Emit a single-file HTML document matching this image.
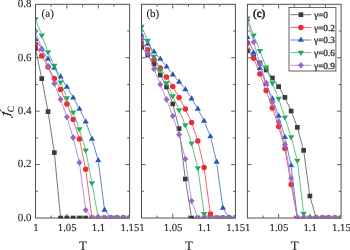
<!DOCTYPE html>
<html><head><meta charset="utf-8"><title>fc vs T</title><style>
html,body{margin:0;padding:0;background:#fff;}
body{width:350px;height:250px;position:relative;overflow:hidden;font-family:"Liberation Serif",serif;}
svg{display:block;will-change:transform;opacity:0.999;filter:blur(0.3px)}
</style></head><body>
<svg width="350" height="250" viewBox="0 0 350 250">
<defs>
<clipPath id="c0"><rect x="36.00" y="4.80" width="93.10" height="213.70"/></clipPath>
<clipPath id="c1"><rect x="142.00" y="4.80" width="92.90" height="213.70"/></clipPath>
<clipPath id="c2"><rect x="247.90" y="4.80" width="92.70" height="213.70"/></clipPath>
</defs>
<rect x="35.5" y="4.3" width="94.10" height="213.70" fill="none" stroke="#505050" stroke-width="1.0"/>
<path d="M51.18 218.0v-2.4M51.18 4.3v2.4M66.87 218.0v-4.2M66.87 4.3v4.2M82.55 218.0v-2.4M82.55 4.3v2.4M98.23 218.0v-4.2M98.23 4.3v4.2M113.92 218.0v-2.4M113.92 4.3v2.4M35.5 31.01h2.4M129.6 31.01h-2.4M35.5 57.72h4.2M129.6 57.72h-4.2M35.5 84.44h2.4M129.6 84.44h-2.4M35.5 111.15h4.2M129.6 111.15h-4.2M35.5 137.86h2.4M129.6 137.86h-2.4M35.5 164.57h4.2M129.6 164.57h-4.2M35.5 191.29h2.4M129.6 191.29h-2.4" stroke="#505050" stroke-width="0.9" fill="none"/>
<g clip-path="url(#c0)">
<path d="M36.01 50.95L41.26 76.15M42.24 81.06L47.58 109.14M48.42 114.07L53.94 150.13M54.56 155.09L60.35 215.51M63.09 218.00L64.37 218.00M69.37 218.00L70.64 218.00M75.64 218.00L76.91 218.00M81.91 218.00L83.19 218.00M88.19 218.00L89.46 218.00M94.46 218.00L95.73 218.00M100.73 218.00L102.01 218.00M107.01 218.00L108.28 218.00M113.28 218.00L114.55 218.00M119.55 218.00L120.83 218.00M125.83 218.00L127.10 218.00" stroke="#555" stroke-width="0.8" fill="none"/>
<rect x="33.15" y="46.15" width="4.70" height="4.70" fill="#3a3a3a"/>
<rect x="39.42" y="76.25" width="4.70" height="4.70" fill="#3a3a3a"/>
<rect x="45.70" y="109.25" width="4.70" height="4.70" fill="#3a3a3a"/>
<rect x="51.97" y="150.25" width="4.70" height="4.70" fill="#3a3a3a"/>
<rect x="58.24" y="215.65" width="4.70" height="4.70" fill="#3a3a3a"/>
<rect x="64.52" y="215.65" width="4.70" height="4.70" fill="#3a3a3a"/>
<rect x="70.79" y="215.65" width="4.70" height="4.70" fill="#3a3a3a"/>
<rect x="77.06" y="215.65" width="4.70" height="4.70" fill="#3a3a3a"/>
<rect x="83.34" y="215.65" width="4.70" height="4.70" fill="#3a3a3a"/>
<rect x="89.61" y="215.65" width="4.70" height="4.70" fill="#3a3a3a"/>
<rect x="95.88" y="215.65" width="4.70" height="4.70" fill="#3a3a3a"/>
<rect x="102.16" y="215.65" width="4.70" height="4.70" fill="#3a3a3a"/>
<rect x="108.43" y="215.65" width="4.70" height="4.70" fill="#3a3a3a"/>
<rect x="114.70" y="215.65" width="4.70" height="4.70" fill="#3a3a3a"/>
<rect x="120.98" y="215.65" width="4.70" height="4.70" fill="#3a3a3a"/>
<rect x="127.25" y="215.65" width="4.70" height="4.70" fill="#3a3a3a"/>
<path d="M36.70 46.69L40.58 53.81M43.01 58.17L46.81 64.83M49.25 69.19L53.11 76.21M55.55 80.58L59.36 87.32M61.59 91.79L65.87 101.71M67.80 106.32L72.20 117.18M73.91 121.88L78.65 136.62M79.92 141.45L85.18 166.75M86.01 171.68L91.64 215.52M94.46 218.00L95.73 218.00M100.73 218.00L102.01 218.00M107.01 218.00L108.28 218.00M113.28 218.00L114.55 218.00M119.55 218.00L120.83 218.00M125.83 218.00L127.10 218.00" stroke="#f0404a" stroke-width="0.8" fill="none"/>
<circle cx="35.50" cy="44.50" r="2.75" fill="#ee2a35"/>
<circle cx="41.77" cy="56.00" r="2.75" fill="#ee2a35"/>
<circle cx="48.05" cy="67.00" r="2.75" fill="#ee2a35"/>
<circle cx="54.32" cy="78.40" r="2.75" fill="#ee2a35"/>
<circle cx="60.59" cy="89.50" r="2.75" fill="#ee2a35"/>
<circle cx="66.87" cy="104.00" r="2.75" fill="#ee2a35"/>
<circle cx="73.14" cy="119.50" r="2.75" fill="#ee2a35"/>
<circle cx="79.41" cy="139.00" r="2.75" fill="#ee2a35"/>
<circle cx="85.69" cy="169.20" r="2.75" fill="#ee2a35"/>
<circle cx="91.96" cy="218.00" r="2.75" fill="#ee2a35"/>
<circle cx="98.23" cy="218.00" r="2.75" fill="#ee2a35"/>
<circle cx="104.51" cy="218.00" r="2.75" fill="#ee2a35"/>
<circle cx="110.78" cy="218.00" r="2.75" fill="#ee2a35"/>
<circle cx="117.05" cy="218.00" r="2.75" fill="#ee2a35"/>
<circle cx="123.33" cy="218.00" r="2.75" fill="#ee2a35"/>
<circle cx="129.60" cy="218.00" r="2.75" fill="#ee2a35"/>
<path d="M36.85 41.31L40.43 46.89M43.10 51.12L46.72 56.88M49.48 61.05L52.89 65.95M55.79 70.02L59.12 74.58M61.88 78.74L65.58 84.86M68.14 89.15L71.87 95.45M74.35 99.79L78.21 106.81M80.53 111.24L84.57 119.36M86.53 123.95L91.11 136.65M92.66 141.40L97.53 158.10M98.55 162.98L104.19 207.52M106.05 211.97L109.24 216.03M113.28 218.00L114.55 218.00M119.55 218.00L120.83 218.00M125.83 218.00L127.10 218.00" stroke="#3a68bc" stroke-width="0.8" fill="none"/>
<path d="M35.50 35.75L38.60 41.00L32.40 41.00Z" fill="#2458b4"/>
<path d="M41.77 45.55L44.87 50.80L38.67 50.80Z" fill="#2458b4"/>
<path d="M48.05 55.55L51.15 60.80L44.95 60.80Z" fill="#2458b4"/>
<path d="M54.32 64.55L57.42 69.80L51.22 69.80Z" fill="#2458b4"/>
<path d="M60.59 73.15L63.69 78.40L57.49 78.40Z" fill="#2458b4"/>
<path d="M66.87 83.55L69.97 88.80L63.77 88.80Z" fill="#2458b4"/>
<path d="M73.14 94.15L76.24 99.40L70.04 99.40Z" fill="#2458b4"/>
<path d="M79.41 105.55L82.51 110.80L76.31 110.80Z" fill="#2458b4"/>
<path d="M85.69 118.15L88.79 123.40L82.59 123.40Z" fill="#2458b4"/>
<path d="M91.96 135.55L95.06 140.80L88.86 140.80Z" fill="#2458b4"/>
<path d="M98.23 157.05L101.33 162.30L95.13 162.30Z" fill="#2458b4"/>
<path d="M104.51 206.55L107.61 211.80L101.41 211.80Z" fill="#2458b4"/>
<path d="M110.78 214.55L113.88 219.80L107.68 219.80Z" fill="#2458b4"/>
<path d="M117.05 214.55L120.15 219.80L113.95 219.80Z" fill="#2458b4"/>
<path d="M123.33 214.55L126.43 219.80L120.23 219.80Z" fill="#2458b4"/>
<path d="M129.60 214.55L132.70 219.80L126.50 219.80Z" fill="#2458b4"/>
<path d="M36.40 21.33L40.87 32.87M42.65 37.54L47.17 49.66M49.09 54.27L53.27 63.33M55.19 67.94L59.72 80.06M61.53 84.72L65.93 95.68M67.87 100.29L72.14 110.11M74.02 114.74L78.53 126.66M80.12 131.40L84.98 148.00M86.16 152.85L91.49 180.55M92.40 185.46L97.79 215.54M100.73 218.00L102.01 218.00M107.01 218.00L108.28 218.00M113.28 218.00L114.55 218.00M119.55 218.00L120.83 218.00M125.83 218.00L127.10 218.00" stroke="#35b26c" stroke-width="0.8" fill="none"/>
<path d="M35.50 22.45L38.65 17.20L32.35 17.20Z" fill="#1faa5c"/>
<path d="M41.77 38.65L44.92 33.40L38.62 33.40Z" fill="#1faa5c"/>
<path d="M48.05 55.45L51.20 50.20L44.90 50.20Z" fill="#1faa5c"/>
<path d="M54.32 69.05L57.47 63.80L51.17 63.80Z" fill="#1faa5c"/>
<path d="M60.59 85.85L63.74 80.60L57.44 80.60Z" fill="#1faa5c"/>
<path d="M66.87 101.45L70.02 96.20L63.72 96.20Z" fill="#1faa5c"/>
<path d="M73.14 115.85L76.29 110.60L69.99 110.60Z" fill="#1faa5c"/>
<path d="M79.41 132.45L82.56 127.20L76.26 127.20Z" fill="#1faa5c"/>
<path d="M85.69 153.85L88.84 148.60L82.54 148.60Z" fill="#1faa5c"/>
<path d="M91.96 186.45L95.11 181.20L88.81 181.20Z" fill="#1faa5c"/>
<path d="M98.23 221.45L101.38 216.20L95.08 216.20Z" fill="#1faa5c"/>
<path d="M104.51 221.45L107.66 216.20L101.36 216.20Z" fill="#1faa5c"/>
<path d="M110.78 221.45L113.93 216.20L107.63 216.20Z" fill="#1faa5c"/>
<path d="M117.05 221.45L120.20 216.20L113.90 216.20Z" fill="#1faa5c"/>
<path d="M123.33 221.45L126.48 216.20L120.18 216.20Z" fill="#1faa5c"/>
<path d="M129.60 221.45L132.75 216.20L126.45 216.20Z" fill="#1faa5c"/>
<path d="M36.34 33.66L40.94 46.64M42.64 51.35L47.18 63.65M48.89 68.35L53.48 81.15M55.24 85.83L59.68 97.07M61.43 101.75L66.03 114.65M67.59 119.39L72.41 135.21M73.75 140.02L78.80 160.18M79.74 165.08L85.36 207.52M87.23 211.97L90.42 216.03M94.46 218.00L95.73 218.00M100.73 218.00L102.01 218.00M107.01 218.00L108.28 218.00M113.28 218.00L114.55 218.00M119.55 218.00L120.83 218.00M125.83 218.00L127.10 218.00" stroke="#a478c8" stroke-width="0.8" fill="none"/>
<path d="M35.50 28.00L38.50 31.30L35.50 34.60L32.50 31.30Z" fill="#9a68c2"/>
<path d="M41.77 45.70L44.77 49.00L41.77 52.30L38.77 49.00Z" fill="#9a68c2"/>
<path d="M48.05 62.70L51.05 66.00L48.05 69.30L45.05 66.00Z" fill="#9a68c2"/>
<path d="M54.32 80.20L57.32 83.50L54.32 86.80L51.32 83.50Z" fill="#9a68c2"/>
<path d="M60.59 96.10L63.59 99.40L60.59 102.70L57.59 99.40Z" fill="#9a68c2"/>
<path d="M66.87 113.70L69.87 117.00L66.87 120.30L63.87 117.00Z" fill="#9a68c2"/>
<path d="M73.14 134.30L76.14 137.60L73.14 140.90L70.14 137.60Z" fill="#9a68c2"/>
<path d="M79.41 159.30L82.41 162.60L79.41 165.90L76.41 162.60Z" fill="#9a68c2"/>
<path d="M85.69 206.70L88.69 210.00L85.69 213.30L82.69 210.00Z" fill="#9a68c2"/>
<path d="M91.96 214.70L94.96 218.00L91.96 221.30L88.96 218.00Z" fill="#9a68c2"/>
<path d="M98.23 214.70L101.23 218.00L98.23 221.30L95.23 218.00Z" fill="#9a68c2"/>
<path d="M104.51 214.70L107.51 218.00L104.51 221.30L101.51 218.00Z" fill="#9a68c2"/>
<path d="M110.78 214.70L113.78 218.00L110.78 221.30L107.78 218.00Z" fill="#9a68c2"/>
<path d="M117.05 214.70L120.05 218.00L117.05 221.30L114.05 218.00Z" fill="#9a68c2"/>
<path d="M123.33 214.70L126.33 218.00L123.33 221.30L120.33 218.00Z" fill="#9a68c2"/>
<path d="M129.60 214.70L132.60 218.00L129.60 221.30L126.60 218.00Z" fill="#9a68c2"/>
</g>
<rect x="141.5" y="4.3" width="93.90" height="213.70" fill="none" stroke="#505050" stroke-width="1.0"/>
<path d="M157.15 218.0v-2.4M157.15 4.3v2.4M172.80 218.0v-4.2M172.80 4.3v4.2M188.45 218.0v-2.4M188.45 4.3v2.4M204.10 218.0v-4.2M204.10 4.3v4.2M219.75 218.0v-2.4M219.75 4.3v2.4M141.5 31.01h2.4M235.4 31.01h-2.4M141.5 57.72h4.2M235.4 57.72h-4.2M141.5 84.44h2.4M235.4 84.44h-2.4M141.5 111.15h4.2M235.4 111.15h-4.2M141.5 137.86h2.4M235.4 137.86h-2.4M141.5 164.57h4.2M235.4 164.57h-4.2M141.5 191.29h2.4M235.4 191.29h-2.4" stroke="#505050" stroke-width="0.9" fill="none"/>
<g clip-path="url(#c1)">
<path d="M143.04 48.97L146.22 53.03M149.19 57.05L152.59 61.95M155.26 66.17L159.04 72.83M161.44 77.22L165.38 84.78M167.40 89.35L171.94 101.65M173.42 106.42L178.44 126.18M179.37 131.08L185.01 176.52M185.72 181.47L191.18 215.53M194.08 218.00L195.34 218.00M200.34 218.00L201.60 218.00M206.60 218.00L207.86 218.00M212.86 218.00L214.12 218.00M219.12 218.00L220.38 218.00M225.38 218.00L226.64 218.00M231.64 218.00L232.90 218.00" stroke="#555" stroke-width="0.8" fill="none"/>
<rect x="139.15" y="44.65" width="4.70" height="4.70" fill="#3a3a3a"/>
<rect x="145.41" y="52.65" width="4.70" height="4.70" fill="#3a3a3a"/>
<rect x="151.67" y="61.65" width="4.70" height="4.70" fill="#3a3a3a"/>
<rect x="157.93" y="72.65" width="4.70" height="4.70" fill="#3a3a3a"/>
<rect x="164.19" y="84.65" width="4.70" height="4.70" fill="#3a3a3a"/>
<rect x="170.45" y="101.65" width="4.70" height="4.70" fill="#3a3a3a"/>
<rect x="176.71" y="126.25" width="4.70" height="4.70" fill="#3a3a3a"/>
<rect x="182.97" y="176.65" width="4.70" height="4.70" fill="#3a3a3a"/>
<rect x="189.23" y="215.65" width="4.70" height="4.70" fill="#3a3a3a"/>
<rect x="195.49" y="215.65" width="4.70" height="4.70" fill="#3a3a3a"/>
<rect x="201.75" y="215.65" width="4.70" height="4.70" fill="#3a3a3a"/>
<rect x="208.01" y="215.65" width="4.70" height="4.70" fill="#3a3a3a"/>
<rect x="214.27" y="215.65" width="4.70" height="4.70" fill="#3a3a3a"/>
<rect x="220.53" y="215.65" width="4.70" height="4.70" fill="#3a3a3a"/>
<rect x="226.79" y="215.65" width="4.70" height="4.70" fill="#3a3a3a"/>
<rect x="233.05" y="215.65" width="4.70" height="4.70" fill="#3a3a3a"/>
<path d="M143.18 44.65L146.08 47.85M149.08 51.82L152.70 57.68M155.54 61.79L158.76 66.01M161.71 70.05L165.11 74.95M167.92 79.09L171.42 84.41M174.05 88.67L177.81 95.23M180.25 99.60L184.13 106.80M186.37 111.27L190.53 120.23M192.38 124.87L197.04 138.63M198.42 143.43L203.52 164.97M204.43 169.88L210.03 211.52M212.47 215.35L214.51 216.65M219.12 218.00L220.38 218.00M225.38 218.00L226.64 218.00M231.64 218.00L232.90 218.00" stroke="#f0404a" stroke-width="0.8" fill="none"/>
<circle cx="141.50" cy="42.80" r="2.75" fill="#ee2a35"/>
<circle cx="147.76" cy="49.70" r="2.75" fill="#ee2a35"/>
<circle cx="154.02" cy="59.80" r="2.75" fill="#ee2a35"/>
<circle cx="160.28" cy="68.00" r="2.75" fill="#ee2a35"/>
<circle cx="166.54" cy="77.00" r="2.75" fill="#ee2a35"/>
<circle cx="172.80" cy="86.50" r="2.75" fill="#ee2a35"/>
<circle cx="179.06" cy="97.40" r="2.75" fill="#ee2a35"/>
<circle cx="185.32" cy="109.00" r="2.75" fill="#ee2a35"/>
<circle cx="191.58" cy="122.50" r="2.75" fill="#ee2a35"/>
<circle cx="197.84" cy="141.00" r="2.75" fill="#ee2a35"/>
<circle cx="204.10" cy="167.40" r="2.75" fill="#ee2a35"/>
<circle cx="210.36" cy="214.00" r="2.75" fill="#ee2a35"/>
<circle cx="216.62" cy="218.00" r="2.75" fill="#ee2a35"/>
<circle cx="222.88" cy="218.00" r="2.75" fill="#ee2a35"/>
<circle cx="229.14" cy="218.00" r="2.75" fill="#ee2a35"/>
<circle cx="235.40" cy="218.00" r="2.75" fill="#ee2a35"/>
<path d="M142.93 37.05L146.33 41.95M149.35 45.93L152.43 49.67M155.63 53.51L158.67 57.09M161.87 60.93L164.95 64.67M168.08 68.57L171.26 72.63M174.41 76.51L177.45 80.09M180.67 83.91L183.71 87.49M186.73 91.47L190.17 96.53M192.87 100.74L196.55 106.86M199.00 111.22L202.94 118.78M205.04 123.32L209.42 134.18M210.96 138.93L216.02 159.57M216.96 164.48L222.54 205.52M224.21 210.12L227.81 215.88M231.64 218.00L232.90 218.00" stroke="#3a68bc" stroke-width="0.8" fill="none"/>
<path d="M141.50 31.55L144.60 36.80L138.40 36.80Z" fill="#2458b4"/>
<path d="M147.76 40.55L150.86 45.80L144.66 45.80Z" fill="#2458b4"/>
<path d="M154.02 48.15L157.12 53.40L150.92 53.40Z" fill="#2458b4"/>
<path d="M160.28 55.55L163.38 60.80L157.18 60.80Z" fill="#2458b4"/>
<path d="M166.54 63.15L169.64 68.40L163.44 68.40Z" fill="#2458b4"/>
<path d="M172.80 71.15L175.90 76.40L169.70 76.40Z" fill="#2458b4"/>
<path d="M179.06 78.55L182.16 83.80L175.96 83.80Z" fill="#2458b4"/>
<path d="M185.32 85.95L188.42 91.20L182.22 91.20Z" fill="#2458b4"/>
<path d="M191.58 95.15L194.68 100.40L188.48 100.40Z" fill="#2458b4"/>
<path d="M197.84 105.55L200.94 110.80L194.74 110.80Z" fill="#2458b4"/>
<path d="M204.10 117.55L207.20 122.80L201.00 122.80Z" fill="#2458b4"/>
<path d="M210.36 133.05L213.46 138.30L207.26 138.30Z" fill="#2458b4"/>
<path d="M216.62 158.55L219.72 163.80L213.52 163.80Z" fill="#2458b4"/>
<path d="M222.88 204.55L225.98 209.80L219.78 209.80Z" fill="#2458b4"/>
<path d="M229.14 214.55L232.24 219.80L226.04 219.80Z" fill="#2458b4"/>
<path d="M235.40 214.55L238.50 219.80L232.30 219.80Z" fill="#2458b4"/>
<path d="M142.52 28.88L146.74 38.32M148.68 42.93L153.10 54.17M155.07 58.77L159.23 67.73M161.36 72.25L165.46 80.75M167.62 85.25L171.72 93.75M173.82 98.28L178.04 107.72M180.02 112.31L184.36 122.69M186.13 127.37L190.77 141.03M192.20 145.82L197.22 165.58M198.18 170.48L203.76 211.32M206.18 215.19L208.28 216.61M212.86 218.00L214.12 218.00M219.12 218.00L220.38 218.00M225.38 218.00L226.64 218.00M231.64 218.00L232.90 218.00" stroke="#35b26c" stroke-width="0.8" fill="none"/>
<path d="M141.50 30.05L144.65 24.80L138.35 24.80Z" fill="#1faa5c"/>
<path d="M147.76 44.05L150.91 38.80L144.61 38.80Z" fill="#1faa5c"/>
<path d="M154.02 59.95L157.17 54.70L150.87 54.70Z" fill="#1faa5c"/>
<path d="M160.28 73.45L163.43 68.20L157.13 68.20Z" fill="#1faa5c"/>
<path d="M166.54 86.45L169.69 81.20L163.39 81.20Z" fill="#1faa5c"/>
<path d="M172.80 99.45L175.95 94.20L169.65 94.20Z" fill="#1faa5c"/>
<path d="M179.06 113.45L182.21 108.20L175.91 108.20Z" fill="#1faa5c"/>
<path d="M185.32 128.45L188.47 123.20L182.17 123.20Z" fill="#1faa5c"/>
<path d="M191.58 146.85L194.73 141.60L188.43 141.60Z" fill="#1faa5c"/>
<path d="M197.84 171.45L200.99 166.20L194.69 166.20Z" fill="#1faa5c"/>
<path d="M204.10 217.25L207.25 212.00L200.95 212.00Z" fill="#1faa5c"/>
<path d="M210.36 221.45L213.51 216.20L207.21 216.20Z" fill="#1faa5c"/>
<path d="M216.62 221.45L219.77 216.20L213.47 216.20Z" fill="#1faa5c"/>
<path d="M222.88 221.45L226.03 216.20L219.73 216.20Z" fill="#1faa5c"/>
<path d="M229.14 221.45L232.29 216.20L225.99 216.20Z" fill="#1faa5c"/>
<path d="M235.40 221.45L238.55 216.20L232.25 216.20Z" fill="#1faa5c"/>
<path d="M142.50 41.29L146.76 51.01M148.69 55.62L153.09 66.68M154.96 71.32L159.34 82.18M161.25 86.80L165.57 97.10M167.42 101.74L171.92 113.66M173.60 118.37L178.26 132.13M179.68 136.92L184.70 156.58M185.69 161.47L191.21 198.53M192.44 203.35L196.98 215.65M200.34 218.00L201.60 218.00M206.60 218.00L207.86 218.00M212.86 218.00L214.12 218.00M219.12 218.00L220.38 218.00M225.38 218.00L226.64 218.00M231.64 218.00L232.90 218.00" stroke="#a478c8" stroke-width="0.8" fill="none"/>
<path d="M141.50 35.70L144.50 39.00L141.50 42.30L138.50 39.00Z" fill="#9a68c2"/>
<path d="M147.76 50.00L150.76 53.30L147.76 56.60L144.76 53.30Z" fill="#9a68c2"/>
<path d="M154.02 65.70L157.02 69.00L154.02 72.30L151.02 69.00Z" fill="#9a68c2"/>
<path d="M160.28 81.20L163.28 84.50L160.28 87.80L157.28 84.50Z" fill="#9a68c2"/>
<path d="M166.54 96.10L169.54 99.40L166.54 102.70L163.54 99.40Z" fill="#9a68c2"/>
<path d="M172.80 112.70L175.80 116.00L172.80 119.30L169.80 116.00Z" fill="#9a68c2"/>
<path d="M179.06 131.20L182.06 134.50L179.06 137.80L176.06 134.50Z" fill="#9a68c2"/>
<path d="M185.32 155.70L188.32 159.00L185.32 162.30L182.32 159.00Z" fill="#9a68c2"/>
<path d="M191.58 197.70L194.58 201.00L191.58 204.30L188.58 201.00Z" fill="#9a68c2"/>
<path d="M197.84 214.70L200.84 218.00L197.84 221.30L194.84 218.00Z" fill="#9a68c2"/>
<path d="M204.10 214.70L207.10 218.00L204.10 221.30L201.10 218.00Z" fill="#9a68c2"/>
<path d="M210.36 214.70L213.36 218.00L210.36 221.30L207.36 218.00Z" fill="#9a68c2"/>
<path d="M216.62 214.70L219.62 218.00L216.62 221.30L213.62 218.00Z" fill="#9a68c2"/>
<path d="M222.88 214.70L225.88 218.00L222.88 221.30L219.88 218.00Z" fill="#9a68c2"/>
<path d="M229.14 214.70L232.14 218.00L229.14 221.30L226.14 218.00Z" fill="#9a68c2"/>
<path d="M235.40 214.70L238.40 218.00L235.40 221.30L232.40 218.00Z" fill="#9a68c2"/>
</g>
<rect x="247.4" y="4.3" width="93.70" height="213.70" fill="none" stroke="#505050" stroke-width="1.0"/>
<path d="M263.02 218.0v-2.4M263.02 4.3v2.4M278.63 218.0v-4.2M278.63 4.3v4.2M294.25 218.0v-2.4M294.25 4.3v2.4M309.87 218.0v-4.2M309.87 4.3v4.2M325.48 218.0v-2.4M325.48 4.3v2.4M247.4 31.01h2.4M341.1 31.01h-2.4M247.4 57.72h4.2M341.1 57.72h-4.2M247.4 84.44h2.4M341.1 84.44h-2.4M247.4 111.15h4.2M341.1 111.15h-4.2M247.4 137.86h2.4M341.1 137.86h-2.4M247.4 164.57h4.2M341.1 164.57h-4.2M247.4 191.29h2.4M341.1 191.29h-2.4" stroke="#505050" stroke-width="0.9" fill="none"/>
<g clip-path="url(#c2)">
<path d="M249.17 52.56L251.87 55.24M255.45 58.73L258.09 61.27M261.56 64.87L264.48 68.13M267.68 71.97L270.85 76.03M273.86 80.02L277.16 84.58M279.89 88.76L283.63 95.24M285.92 99.67L290.08 108.73M292.02 113.34L296.48 125.06M298.03 129.81L302.96 147.99M303.96 152.88L309.53 193.52M310.55 198.40L315.43 215.60M318.61 218.00L319.86 218.00M324.86 218.00L326.11 218.00M331.11 218.00L332.35 218.00M337.35 218.00L338.60 218.00" stroke="#555" stroke-width="0.8" fill="none"/>
<rect x="245.05" y="48.45" width="4.70" height="4.70" fill="#3a3a3a"/>
<rect x="251.30" y="54.65" width="4.70" height="4.70" fill="#3a3a3a"/>
<rect x="257.54" y="60.65" width="4.70" height="4.70" fill="#3a3a3a"/>
<rect x="263.79" y="67.65" width="4.70" height="4.70" fill="#3a3a3a"/>
<rect x="270.04" y="75.65" width="4.70" height="4.70" fill="#3a3a3a"/>
<rect x="276.28" y="84.25" width="4.70" height="4.70" fill="#3a3a3a"/>
<rect x="282.53" y="95.05" width="4.70" height="4.70" fill="#3a3a3a"/>
<rect x="288.78" y="108.65" width="4.70" height="4.70" fill="#3a3a3a"/>
<rect x="295.02" y="125.05" width="4.70" height="4.70" fill="#3a3a3a"/>
<rect x="301.27" y="148.05" width="4.70" height="4.70" fill="#3a3a3a"/>
<rect x="307.52" y="193.65" width="4.70" height="4.70" fill="#3a3a3a"/>
<rect x="313.76" y="215.65" width="4.70" height="4.70" fill="#3a3a3a"/>
<rect x="320.01" y="215.65" width="4.70" height="4.70" fill="#3a3a3a"/>
<rect x="326.26" y="215.65" width="4.70" height="4.70" fill="#3a3a3a"/>
<rect x="332.50" y="215.65" width="4.70" height="4.70" fill="#3a3a3a"/>
<rect x="338.75" y="215.65" width="4.70" height="4.70" fill="#3a3a3a"/>
<path d="M248.35 45.31L252.70 55.89M254.57 60.52L258.97 71.68M260.77 76.34L265.26 88.26M266.98 92.95L271.54 105.65M273.18 110.37L277.84 124.23M279.32 129.00L284.20 146.20M285.31 151.06L290.70 182.04M291.58 186.96L296.92 215.54M299.87 218.00L301.12 218.00M306.12 218.00L307.37 218.00M312.37 218.00L313.61 218.00M318.61 218.00L319.86 218.00M324.86 218.00L326.11 218.00M331.11 218.00L332.35 218.00M337.35 218.00L338.60 218.00" stroke="#f0404a" stroke-width="0.8" fill="none"/>
<circle cx="247.40" cy="43.00" r="2.75" fill="#ee2a35"/>
<circle cx="253.65" cy="58.20" r="2.75" fill="#ee2a35"/>
<circle cx="259.89" cy="74.00" r="2.75" fill="#ee2a35"/>
<circle cx="266.14" cy="90.60" r="2.75" fill="#ee2a35"/>
<circle cx="272.39" cy="108.00" r="2.75" fill="#ee2a35"/>
<circle cx="278.63" cy="126.60" r="2.75" fill="#ee2a35"/>
<circle cx="284.88" cy="148.60" r="2.75" fill="#ee2a35"/>
<circle cx="291.13" cy="184.50" r="2.75" fill="#ee2a35"/>
<circle cx="297.37" cy="218.00" r="2.75" fill="#ee2a35"/>
<circle cx="303.62" cy="218.00" r="2.75" fill="#ee2a35"/>
<circle cx="309.87" cy="218.00" r="2.75" fill="#ee2a35"/>
<circle cx="316.11" cy="218.00" r="2.75" fill="#ee2a35"/>
<circle cx="322.36" cy="218.00" r="2.75" fill="#ee2a35"/>
<circle cx="328.61" cy="218.00" r="2.75" fill="#ee2a35"/>
<circle cx="334.85" cy="218.00" r="2.75" fill="#ee2a35"/>
<circle cx="341.10" cy="218.00" r="2.75" fill="#ee2a35"/>
<path d="M248.34 39.52L252.71 50.28M254.58 54.92L258.96 65.88M260.81 70.52L265.22 81.68M267.12 86.30L271.40 96.30M273.23 100.95L277.79 113.65M279.34 118.40L284.17 134.80M285.42 139.64L290.59 162.96M291.42 167.88L297.08 215.52M299.87 218.00L301.12 218.00M306.12 218.00L307.37 218.00M312.37 218.00L313.61 218.00M318.61 218.00L319.86 218.00M324.86 218.00L326.11 218.00M331.11 218.00L332.35 218.00M337.35 218.00L338.60 218.00" stroke="#3a68bc" stroke-width="0.8" fill="none"/>
<path d="M247.40 33.75L250.50 39.00L244.30 39.00Z" fill="#2458b4"/>
<path d="M253.65 49.15L256.75 54.40L250.55 54.40Z" fill="#2458b4"/>
<path d="M259.89 64.75L262.99 70.00L256.79 70.00Z" fill="#2458b4"/>
<path d="M266.14 80.55L269.24 85.80L263.04 85.80Z" fill="#2458b4"/>
<path d="M272.39 95.15L275.49 100.40L269.29 100.40Z" fill="#2458b4"/>
<path d="M278.63 112.55L281.73 117.80L275.53 117.80Z" fill="#2458b4"/>
<path d="M284.88 133.75L287.98 139.00L281.78 139.00Z" fill="#2458b4"/>
<path d="M291.13 161.95L294.23 167.20L288.03 167.20Z" fill="#2458b4"/>
<path d="M297.37 214.55L300.47 219.80L294.27 219.80Z" fill="#2458b4"/>
<path d="M303.62 214.55L306.72 219.80L300.52 219.80Z" fill="#2458b4"/>
<path d="M309.87 214.55L312.97 219.80L306.77 219.80Z" fill="#2458b4"/>
<path d="M316.11 214.55L319.21 219.80L313.01 219.80Z" fill="#2458b4"/>
<path d="M322.36 214.55L325.46 219.80L319.26 219.80Z" fill="#2458b4"/>
<path d="M328.61 214.55L331.71 219.80L325.51 219.80Z" fill="#2458b4"/>
<path d="M334.85 214.55L337.95 219.80L331.75 219.80Z" fill="#2458b4"/>
<path d="M341.10 214.55L344.20 219.80L338.00 219.80Z" fill="#2458b4"/>
<path d="M248.26 20.75L252.78 33.05M254.59 37.72L258.95 48.48M260.77 53.14L265.26 65.06M267.07 69.72L271.46 80.68M273.32 85.32L277.70 96.28M279.42 100.97L284.09 115.03M285.64 119.78L290.37 134.62M291.77 139.42L296.73 158.18M297.67 163.08L303.33 211.12M305.66 215.04L307.82 216.56M312.37 218.00L313.61 218.00M318.61 218.00L319.86 218.00M324.86 218.00L326.11 218.00M331.11 218.00L332.35 218.00M337.35 218.00L338.60 218.00" stroke="#35b26c" stroke-width="0.8" fill="none"/>
<path d="M247.40 21.85L250.55 16.60L244.25 16.60Z" fill="#1faa5c"/>
<path d="M253.65 38.85L256.80 33.60L250.50 33.60Z" fill="#1faa5c"/>
<path d="M259.89 54.25L263.04 49.00L256.74 49.00Z" fill="#1faa5c"/>
<path d="M266.14 70.85L269.29 65.60L262.99 65.60Z" fill="#1faa5c"/>
<path d="M272.39 86.45L275.54 81.20L269.24 81.20Z" fill="#1faa5c"/>
<path d="M278.63 102.05L281.78 96.80L275.48 96.80Z" fill="#1faa5c"/>
<path d="M284.88 120.85L288.03 115.60L281.73 115.60Z" fill="#1faa5c"/>
<path d="M291.13 140.45L294.28 135.20L287.98 135.20Z" fill="#1faa5c"/>
<path d="M297.37 164.05L300.52 158.80L294.22 158.80Z" fill="#1faa5c"/>
<path d="M303.62 217.05L306.77 211.80L300.47 211.80Z" fill="#1faa5c"/>
<path d="M309.87 221.45L313.02 216.20L306.72 216.20Z" fill="#1faa5c"/>
<path d="M316.11 221.45L319.26 216.20L312.96 216.20Z" fill="#1faa5c"/>
<path d="M322.36 221.45L325.51 216.20L319.21 216.20Z" fill="#1faa5c"/>
<path d="M328.61 221.45L331.76 216.20L325.46 216.20Z" fill="#1faa5c"/>
<path d="M334.85 221.45L338.00 216.20L331.70 216.20Z" fill="#1faa5c"/>
<path d="M341.10 221.45L344.25 216.20L337.95 216.20Z" fill="#1faa5c"/>
<path d="M248.09 22.60L252.96 39.60M254.35 44.40L259.19 61.00M260.65 65.78L265.38 80.62M266.92 85.37L271.61 99.63M273.13 104.39L277.89 119.61M279.30 124.41L284.21 142.19M285.34 147.06L290.67 175.74M291.51 180.67L296.99 215.53M299.87 218.00L301.12 218.00M306.12 218.00L307.37 218.00M312.37 218.00L313.61 218.00M318.61 218.00L319.86 218.00M324.86 218.00L326.11 218.00M331.11 218.00L332.35 218.00M337.35 218.00L338.60 218.00" stroke="#a478c8" stroke-width="0.8" fill="none"/>
<path d="M247.40 16.90L250.40 20.20L247.40 23.50L244.40 20.20Z" fill="#9a68c2"/>
<path d="M253.65 38.70L256.65 42.00L253.65 45.30L250.65 42.00Z" fill="#9a68c2"/>
<path d="M259.89 60.10L262.89 63.40L259.89 66.70L256.89 63.40Z" fill="#9a68c2"/>
<path d="M266.14 79.70L269.14 83.00L266.14 86.30L263.14 83.00Z" fill="#9a68c2"/>
<path d="M272.39 98.70L275.39 102.00L272.39 105.30L269.39 102.00Z" fill="#9a68c2"/>
<path d="M278.63 118.70L281.63 122.00L278.63 125.30L275.63 122.00Z" fill="#9a68c2"/>
<path d="M284.88 141.30L287.88 144.60L284.88 147.90L281.88 144.60Z" fill="#9a68c2"/>
<path d="M291.13 174.90L294.13 178.20L291.13 181.50L288.13 178.20Z" fill="#9a68c2"/>
<path d="M297.37 214.70L300.37 218.00L297.37 221.30L294.37 218.00Z" fill="#9a68c2"/>
<path d="M303.62 214.70L306.62 218.00L303.62 221.30L300.62 218.00Z" fill="#9a68c2"/>
<path d="M309.87 214.70L312.87 218.00L309.87 221.30L306.87 218.00Z" fill="#9a68c2"/>
<path d="M316.11 214.70L319.11 218.00L316.11 221.30L313.11 218.00Z" fill="#9a68c2"/>
<path d="M322.36 214.70L325.36 218.00L322.36 221.30L319.36 218.00Z" fill="#9a68c2"/>
<path d="M328.61 214.70L331.61 218.00L328.61 221.30L325.61 218.00Z" fill="#9a68c2"/>
<path d="M334.85 214.70L337.85 218.00L334.85 221.30L331.85 218.00Z" fill="#9a68c2"/>
<path d="M341.10 214.70L344.10 218.00L341.10 221.30L338.10 218.00Z" fill="#9a68c2"/>
</g>
<rect x="289.0" y="7.4" width="46.90" height="63.60" fill="#fff" stroke="#505050" stroke-width="0.9"/>
<path d="M290.3 14.7H311.3" stroke="#555" stroke-width="0.8"/>
<rect x="298.55" y="12.35" width="4.70" height="4.70" fill="#3a3a3a"/>
<path d="M290.3 27.4H311.3" stroke="#f0404a" stroke-width="0.8"/>
<circle cx="300.90" cy="27.40" r="2.75" fill="#ee2a35"/>
<path d="M290.3 40.0H311.3" stroke="#3a68bc" stroke-width="0.8"/>
<path d="M300.90 36.55L304.00 41.80L297.80 41.80Z" fill="#2458b4"/>
<path d="M290.3 52.6H311.3" stroke="#35b26c" stroke-width="0.8"/>
<path d="M300.90 56.05L304.05 50.80L297.75 50.80Z" fill="#1faa5c"/>
<path d="M290.3 65.3H311.3" stroke="#a478c8" stroke-width="0.8"/>
<path d="M300.90 62.00L303.90 65.30L300.90 68.60L297.90 65.30Z" fill="#9a68c2"/>
<g font-family="Liberation Serif, serif" text-rendering="geometricPrecision" stroke="#1a1a1a" stroke-width="0.1" fill="#1a1a1a"><text x="31.60" y="7.20" font-size="11" text-anchor="end" >0.8</text><text x="31.60" y="60.62" font-size="11" text-anchor="end" >0.6</text><text x="31.60" y="114.05" font-size="11" text-anchor="end" >0.4</text><text x="31.60" y="167.47" font-size="11" text-anchor="end" >0.2</text><text x="31.60" y="220.90" font-size="11" text-anchor="end" >0.0</text><text x="35.80" y="230.80" font-size="10.7" text-anchor="middle" >1</text><text x="67.17" y="230.80" font-size="10.7" text-anchor="middle" >1.05</text><text x="98.53" y="230.80" font-size="10.7" text-anchor="middle" >1.1</text><text x="129.90" y="230.80" font-size="10.7" text-anchor="middle" >1.15</text><text x="83.05" y="249.50" font-size="13" text-anchor="middle" >T</text><text x="141.80" y="230.80" font-size="10.7" text-anchor="middle" >1</text><text x="173.10" y="230.80" font-size="10.7" text-anchor="middle" >1.05</text><text x="204.40" y="230.80" font-size="10.7" text-anchor="middle" >1.1</text><text x="235.70" y="230.80" font-size="10.7" text-anchor="middle" >1.15</text><text x="188.95" y="249.50" font-size="13" text-anchor="middle" >T</text><text x="247.70" y="230.80" font-size="10.7" text-anchor="middle" >1</text><text x="278.93" y="230.80" font-size="10.7" text-anchor="middle" >1.05</text><text x="310.17" y="230.80" font-size="10.7" text-anchor="middle" >1.1</text><text x="341.40" y="230.80" font-size="10.7" text-anchor="middle" >1.15</text><text x="294.75" y="249.50" font-size="13" text-anchor="middle" >T</text><text x="41.60" y="16.80" font-size="11" text-anchor="start" >(a)</text><text x="146.40" y="16.80" font-size="11" text-anchor="start" >(b)</text><text x="253.00" y="16.80" font-size="11" text-anchor="start" stroke-width="0.55">(c)</text><text x="313.90" y="18.10" font-size="9.3" text-anchor="start" stroke-width="0.25">γ=0</text><text x="313.90" y="30.80" font-size="9.3" text-anchor="start" stroke-width="0.25">γ=0.2</text><text x="313.90" y="43.40" font-size="9.3" text-anchor="start" stroke-width="0.25">γ=0.3</text><text x="313.90" y="56.00" font-size="9.3" text-anchor="start" stroke-width="0.25">γ=0.6</text><text x="313.90" y="68.70" font-size="9.3" text-anchor="start" stroke-width="0.25">γ=0.9</text><g transform="translate(10,116.8) rotate(-90)"><text x="4.6" y="3.5" font-size="9.5">C</text></g><g fill="none" stroke="#1a1a1a" stroke-linecap="round"><path d="M0.2 109.9C0.9 110.2 1.3 111.5 2.4 112.4L10.6 115.0C11.7 115.5 12.3 116.4 12.0 117.5" stroke-width="0.75"/><path d="M2.3 112.4L10.5 115.0" stroke-width="1.1"/><path d="M3.9 111.8L3.5 115.1" stroke-width="0.8"/></g><circle cx="0.3" cy="110" r="0.6" stroke="none"/><circle cx="11.9" cy="117.4" r="0.7" stroke="none"/></g>
</svg>
</body></html>
